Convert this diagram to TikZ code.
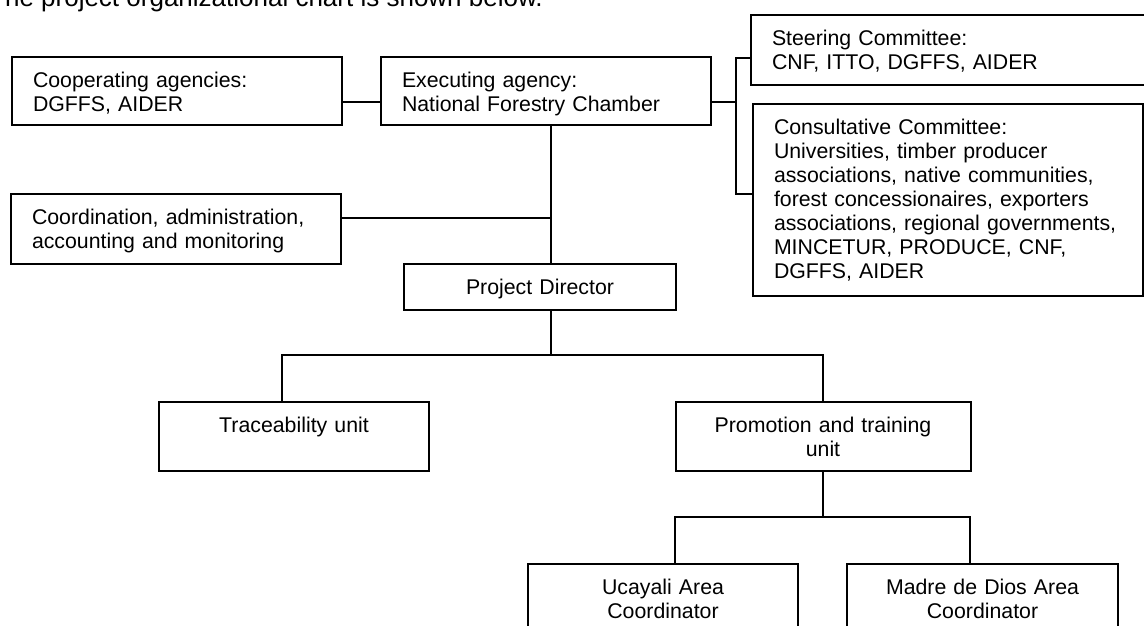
\documentclass[tikz,border=0pt]{standalone}
\usepackage{fontspec}
\setmainfont{Liberation Sans}
\usepackage{tikz}
\usetikzlibrary{calc,positioning,arrows.meta}

\tikzset{
	orgbox/.style={draw=black, line width=2pt, rectangle, anchor=north west,
		inner xsep=21pt, inner ysep=0pt, text height=30.5pt,
		font=\fontsize{21.3}{24}\selectfont},
	orgline/.style={line width=2pt}
}

\begin{document}
\begin{tikzpicture}[x=1pt,y=-1pt]

    \useasboundingbox (0,0) rectangle (1144,626);
    \clip (0,0) rectangle (1144,626);

    \node[anchor=base west, inner sep=0pt, font=\fontsize{26}{30}\selectfont] (intro) at (-11,7) {The project organizational chart is shown below.};

    \node[orgbox, align=left, text width=288pt, text depth=37.5pt] (coop) at (11,56) {Cooperating agencies:\\DGFFS, AIDER};
    \node[orgbox, align=left, text width=288pt, text depth=37.5pt] (exec) at (380,56) {Executing agency:\\National Forestry Chamber};
    \node[orgbox, align=left, text width=358pt, text depth=39.5pt] (steer) at (750,14) {Steering Committee:\\CNF, ITTO, DGFFS, AIDER};
    \node[orgbox, align=left, text width=348pt, text depth=161.5pt] (consult) at (752,103) {Consultative Committee:\\Universities, timber producer\\associations, native communities,\\forest concessionaires, exporters\\associations, regional governments,\\MINCETUR, PRODUCE, CNF,\\DGFFS, AIDER};
    \node[orgbox, align=left, text width=288pt, text depth=39.5pt] (coord) at (10,193) {Coordination, administration,\\accounting and monitoring};

    \node[orgbox, align=center, text width=230pt, text depth=15.5pt] (director) at (403,263) {Project Director};
    \node[orgbox, align=center, text width=228pt, text depth=38.5pt] (trace) at (158,401) {Traceability unit};
    \node[orgbox, align=center, text width=253pt, text depth=38.5pt] (promo) at (674.5,401) {Promotion and training\\unit};
    \node[orgbox, align=center, text width=228pt, text depth=60pt] (ucay) at (527,563) {Ucayali Area\\Coordinator};
    \node[orgbox, align=center, text width=229pt, text depth=60pt] (madre) at (846,563) {Madre de Dios Area\\Coordinator};

    \coordinate (spine) at (551,0);
    \coordinate (brk) at (736,125);
    \coordinate (bus) at (551,355);
    \coordinate (subbus) at (822,517);

    \draw[orgline] ([yshift=-11pt]coop.east) -- ([yshift=-11pt]coop.east -| exec.west);
    \draw[orgline] ([yshift=-11pt]exec.east) -- ([yshift=-11pt]exec.east -| brk);
    \draw[orgline] ([yshift=-8pt]steer.west) -| (brk) |- ([yshift=6pt]consult.west);
    \draw[orgline] (exec.south -| spine) -- (director.north -| spine);
    \draw[orgline] ([yshift=11pt]coord.east) -- ([yshift=11pt]coord.east -| spine);

    \draw[orgline] (director.south -| spine) -- (bus);
    \draw[orgline] ([xshift=-12pt]trace.north) |- (bus) -| (promo.north);
    \draw[orgline] (promo.south) -- (promo.south |- subbus);
    \draw[orgline] ([xshift=12pt]ucay.north) |- (subbus) -| ([xshift=-12.5pt]madre.north);

\end{tikzpicture}
\end{document}
